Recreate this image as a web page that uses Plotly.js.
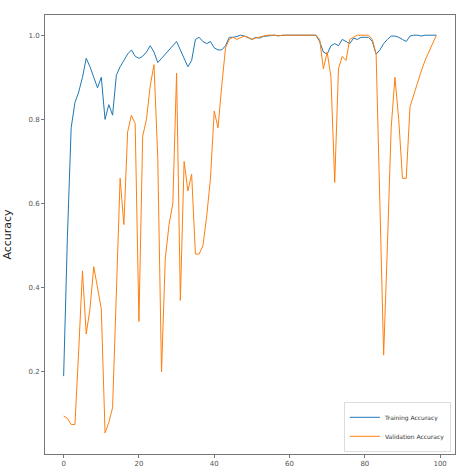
<!DOCTYPE html>
<html>
<head>
<meta charset="utf-8">
<script src="https://cdn.plot.ly/plotly-3.0.1.min.js"></script>
<style>html,body{margin:0;padding:0;background:#fff;}#chart{width:458px;height:472px;}</style>
</head>
<body>
<div id="chart"></div>
<script>
const epochs = Array.from({length: 100}, (_, i) => i);

const trainingAccuracy = [
  0.19, 0.52, 0.78, 0.84, 0.865, 0.90, 0.945, 0.925, 0.90, 0.875,
  0.90, 0.80, 0.835, 0.81, 0.905, 0.925, 0.94, 0.955, 0.965, 0.95,
  0.945, 0.95, 0.96, 0.975, 0.96, 0.935, 0.945, 0.955, 0.965, 0.975,
  0.985, 0.965, 0.945, 0.925, 0.94, 0.99, 0.995, 0.985, 0.98, 0.985,
  0.97, 0.965, 0.965, 0.975, 0.995, 0.995, 0.997, 1.0, 0.998, 0.993,
  0.99, 0.995, 0.993, 0.997, 0.998, 1.0, 1.0, 0.999, 1.0, 1.0,
  1.0, 1.0, 1.0, 1.0, 1.0, 1.0, 1.0, 1.0, 0.985, 0.96,
  0.955, 0.975, 0.98, 0.975, 0.99, 0.985, 0.98, 0.993, 0.99, 0.995,
  0.995, 0.995, 0.985, 0.955, 0.965, 0.98, 0.99, 0.998, 0.998, 0.995,
  0.99, 0.985, 0.998, 1.0, 1.0, 0.998, 1.0, 1.0, 1.0, 1.0
];

const validationAccuracy = [
  0.095, 0.09, 0.075, 0.075, 0.25, 0.44, 0.29, 0.35, 0.45, 0.40,
  0.35, 0.055, 0.08, 0.115, 0.40, 0.66, 0.55, 0.77, 0.81, 0.79,
  0.32, 0.76, 0.80, 0.88, 0.93, 0.71, 0.20, 0.47, 0.55, 0.60,
  0.91, 0.37, 0.70, 0.63, 0.67, 0.48, 0.48, 0.50, 0.57, 0.66,
  0.82, 0.78, 0.88, 0.97, 0.99, 0.995, 0.99, 0.995, 0.998, 0.995,
  0.99, 0.993, 0.995, 0.997, 1.0, 1.0, 1.0, 0.998, 1.0, 1.0,
  1.0, 1.0, 1.0, 1.0, 1.0, 1.0, 1.0, 1.0, 0.99, 0.92,
  0.96, 0.90, 0.65, 0.92, 0.95, 0.94, 0.99, 0.995, 1.0, 1.0,
  1.0, 1.0, 0.99, 0.955, 0.60, 0.24, 0.50, 0.78, 0.90, 0.80,
  0.66, 0.66, 0.83, 0.86, 0.89, 0.915, 0.94, 0.96, 0.98, 1.0
];

const seriesNames = ['Training Accuracy', 'Validation Accuracy'];
const xTicks = [0, 20, 40, 60, 80, 100];
const yTicks = [0.2, 0.4, 0.6, 0.8, 1.0];
const yTickLabels = ['0.2', '0.4', '0.6', '0.8', '1.0'];

const traces = [
  {x: epochs, y: trainingAccuracy, name: seriesNames[0], type: 'scatter', mode: 'lines',
   line: {color: '#1f77b4', width: 1}},
  {x: epochs, y: validationAccuracy, name: seriesNames[1], type: 'scatter', mode: 'lines',
   line: {color: '#ff7f0e', width: 1}}
];

const axisCommon = {
  showgrid: false, zeroline: false, showline: true, mirror: true,
  linecolor: '#777', linewidth: 1, ticks: 'outside', ticklen: 3, tickwidth: 1,
  tickcolor: '#777', tickfont: {family: 'DejaVu Sans', size: 7, color: '#555'}
};

const layout = {
  width: 458, height: 472,
  margin: {l: 45, r: 3, t: 15, b: 18},
  paper_bgcolor: '#fff', plot_bgcolor: '#fff',
  showlegend: true,
  legend: {x: 0.99, y: 0.005, xanchor: 'right', yanchor: 'bottom',
    bgcolor: 'rgba(255,255,255,0.8)', bordercolor: '#ddd', borderwidth: 1,
    font: {family: 'DejaVu Sans', size: 6, color: '#333'}, itemwidth: 30,
    tracegroupgap: 0},
  xaxis: Object.assign({}, axisCommon, {range: [-4.95, 103.95], tickvals: xTicks}),
  yaxis: Object.assign({}, axisCommon, {range: [0.005, 1.048], tickvals: yTicks, ticktext: yTickLabels,
    title: {text: 'Accuracy', font: {family: 'DejaVu Sans', size: 11, color: '#222'}, standoff: 14}})
};

Plotly.newPlot('chart', traces, layout, {displayModeBar: false, staticPlot: true});
</script>
</body>
</html>
